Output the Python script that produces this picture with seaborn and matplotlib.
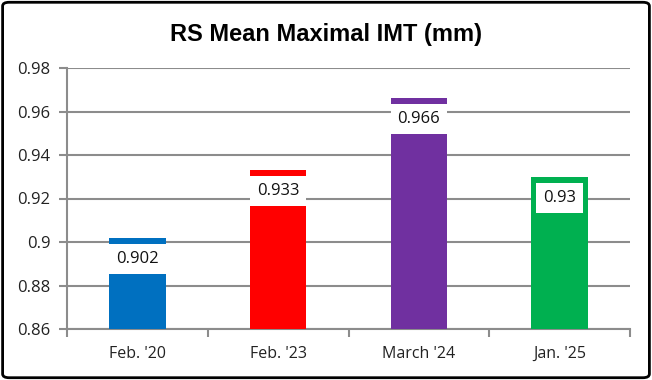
import matplotlib
matplotlib.use("Agg")
import matplotlib.pyplot as plt
import seaborn as sns
import pandas as pd
from matplotlib.patches import FancyBboxPatch

# data
categories = ["Feb. '20", "Feb. '23", "March '24", "Jan. '25"]
values = [0.902, 0.933, 0.966, 0.93]
value_labels = ["0.902", "0.933", "0.966", "0.93"]
colors = ["#0070C0", "#FF0000", "#7030A0", "#00B050"]
y_ticks = [0.86, 0.88, 0.90, 0.92, 0.94, 0.96, 0.98]
y_tick_labels = ["0.86", "0.88", "0.9", "0.92", "0.94", "0.96", "0.98"]

sns.set_theme(style="white")
plt.rcParams["font.family"] = ["Open Sans", "DejaVu Sans"]

df = pd.DataFrame({"period": categories, "imt": values})

fig = plt.figure(figsize=(6.52, 3.80), dpi=100)
ax = fig.add_axes([67 / 652, 1 - 329 / 380, (630 - 67) / 652, (329 - 68) / 380])

sns.barplot(
    data=df,
    x="period",
    y="imt",
    hue="period",
    palette=colors,
    width=0.4,
    saturation=1,
    linewidth=0,
    legend=False,
    ax=ax,
    zorder=3,
)

ax.set_ylim(0.86, 0.98)
ax.set_xlim(-0.5, len(categories) - 0.5)
ax.set_yticks(y_ticks)
ax.set_yticklabels(y_tick_labels)
ax.set_xlabel("")
ax.set_ylabel("")

grid_color = "#8C8C8C"
ax.yaxis.grid(True, color=grid_color, linewidth=1.5, zorder=0)
ax.xaxis.grid(False)
for side in ["top", "right"]:
    ax.spines[side].set_visible(False)
for side in ["left", "bottom"]:
    ax.spines[side].set_color(grid_color)
    ax.spines[side].set_linewidth(1.5)

ax.tick_params(axis="y", which="major", direction="out", length=6, width=1.5,
               color=grid_color, labelsize=12, labelcolor="#222222", pad=6, left=True)
ax.tick_params(axis="x", which="major", length=0, labelsize=11.5,
               labelcolor="#222222", pad=12)
# tick marks between categories
ax.set_xticks([i + 0.5 for i in range(-1, len(categories))], minor=True)
ax.tick_params(axis="x", which="minor", direction="out", length=6, width=1.5,
               color=grid_color, bottom=True)

# value labels in white boxes just under bar tops
for i, (v, lab) in enumerate(zip(values, value_labels)):
    ax.annotate(
        lab,
        xy=(i, v),
        xytext=(0, -21),
        textcoords="offset pixels",
        ha="center",
        va="center",
        fontsize=12,
        color="#111111",
        bbox=dict(boxstyle="square,pad=0.42", fc="white", ec="none"),
        zorder=5,
    )

fig.text(0.5, 1 - 35 / 380, "RS Mean Maximal IMT (mm)", ha="center", va="center",
         fontsize=17, fontweight="bold", color="black",
         family=["Liberation Sans", "DejaVu Sans"])

border = FancyBboxPatch((0.004, 0.006), 0.992, 0.988,
                        boxstyle="round,pad=0,rounding_size=0.01",
                        transform=fig.transFigure, fill=False,
                        ec="black", lw=2)
fig.patches.append(border)

fig.savefig("out.png", dpi=100)
